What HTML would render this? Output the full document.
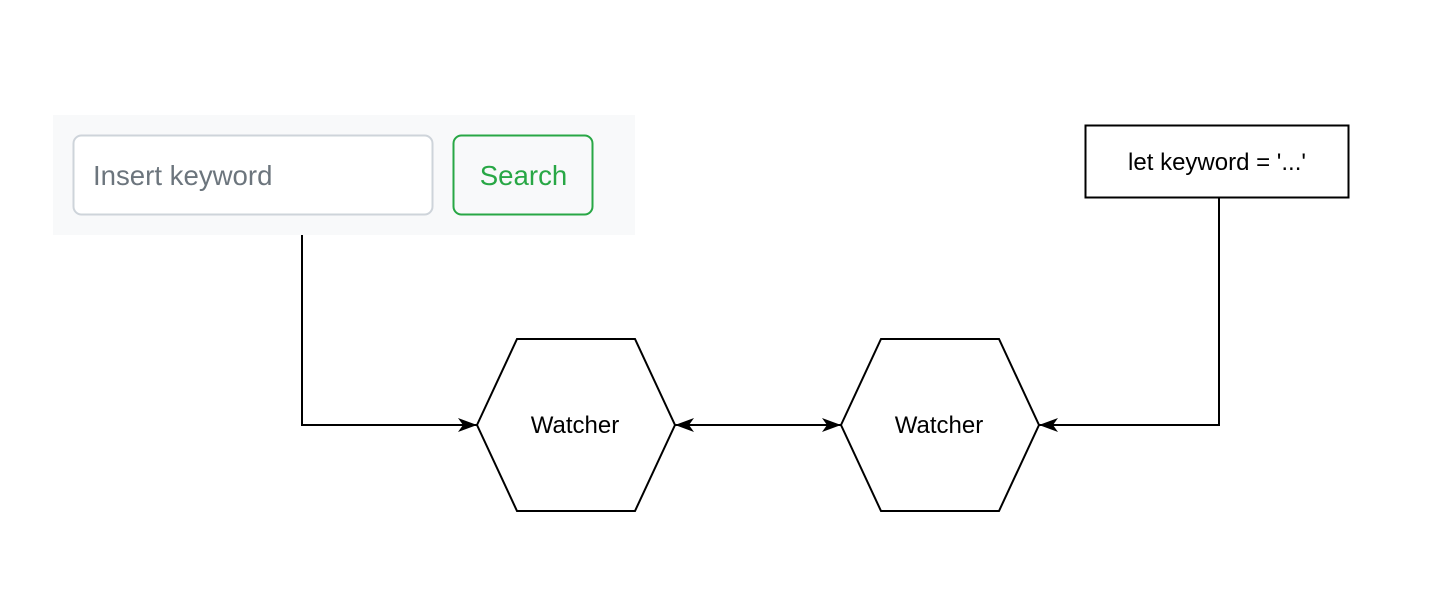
<!DOCTYPE html>
<html><head><meta charset="utf-8"><style>
html,body{margin:0;padding:0;background:#fff;}
svg{display:block;}
text{font-family:"Liberation Sans",Helvetica,Arial,sans-serif;}
</style></head><body>
<svg width="1448" height="594" viewBox="0 0 1448 594" xmlns="http://www.w3.org/2000/svg">
<defs>
<marker id="a" viewBox="0 0 20 16" refX="19" refY="8" markerWidth="20" markerHeight="16" markerUnits="userSpaceOnUse" orient="auto-start-reverse">
<path d="M0,1 L19,8 L0,15 L5,8 Z" fill="#000"/>
</marker>
</defs>
<rect x="53" y="115" width="582" height="120" fill="#f8f9fa"/>
<rect x="73.5" y="135.5" width="359" height="79" rx="8" fill="#fff" stroke="#ced4da" stroke-width="2"/>
<text x="93" y="185" font-size="27.6" fill="#6c757d">Insert keyword</text>
<rect x="453.5" y="135.5" width="139" height="79" rx="8" fill="none" stroke="#28a745" stroke-width="2"/>
<text x="523.5" y="185" font-size="27.6" fill="#28a745" text-anchor="middle">Search</text>
<rect x="1085.5" y="125.5" width="263" height="72" fill="#fff" stroke="#000" stroke-width="2"/>
<text x="1217" y="170" font-size="24" text-anchor="middle">let keyword = '...'</text>
<polygon points="477,425 517,339 635,339 675,425 635,511 517,511" fill="#fff" stroke="#000" stroke-width="2"/>
<text x="575" y="433" font-size="24" text-anchor="middle">Watcher</text>
<polygon points="841,425 881,339 999,339 1039,425 999,511 881,511" fill="#fff" stroke="#000" stroke-width="2"/>
<text x="939" y="433" font-size="24" text-anchor="middle">Watcher</text>
<polyline points="302,235 302,425 477,425" fill="none" stroke="#000" stroke-width="2" marker-end="url(#a)"/>
<polyline points="1219,198 1219,425 1039,425" fill="none" stroke="#000" stroke-width="2" marker-end="url(#a)"/>
<line x1="675" y1="425" x2="841" y2="425" stroke="#000" stroke-width="2" marker-start="url(#a)" marker-end="url(#a)"/>
</svg>
</body></html>
